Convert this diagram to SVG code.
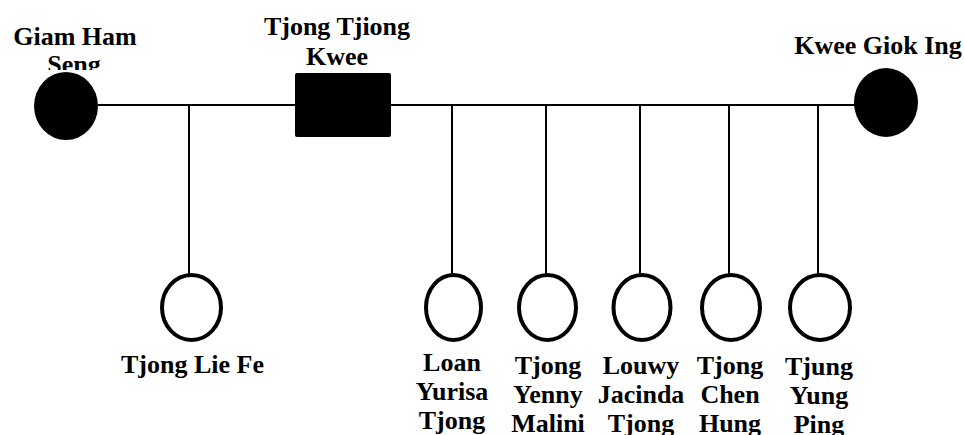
<svg xmlns="http://www.w3.org/2000/svg" width="964" height="435" viewBox="0 0 964 435">
  <style>
    .lbl { font-family: "Liberation Serif", "Times New Roman", serif; font-weight: bold; font-size: 26px; fill: #000; text-anchor: middle; }
    .link { stroke: #000; stroke-width: 2; fill: none; }
    .filled { fill: #000; stroke: none; }
    .open { fill: #fff; stroke: #000; stroke-width: 4; }
  </style>
  <defs>
    <clipPath id="clipGiam"><rect x="0" y="0" width="160" height="70"/></clipPath>
  </defs>
  <rect width="964" height="435" fill="#fff"/>

  <!-- marriage line and descent lines -->
  <g id="connectors">
    <line class="link" x1="98" y1="105" x2="856" y2="105"/>
    <line class="link" x1="189" y1="105" x2="189" y2="275"/>
    <line class="link" x1="452" y1="105" x2="452" y2="275"/>
    <line class="link" x1="546" y1="105" x2="546" y2="275"/>
    <line class="link" x1="640" y1="105" x2="640" y2="275"/>
    <line class="link" x1="729" y1="105" x2="729" y2="275"/>
    <line class="link" x1="818" y1="105" x2="818" y2="275"/>
  </g>

  <g id="giam-ham-seng">
    <g clip-path="url(#clipGiam)">
      <text class="lbl" x="75" y="45">Giam Ham</text>
      <text class="lbl" x="74" y="73">Seng</text>
    </g>
    <ellipse class="filled" cx="66" cy="106" rx="32" ry="34"/>
  </g>

  <g id="tjong-tjiong-kwee">
    <text class="lbl" x="337" y="35">Tjong Tjiong</text>
    <text class="lbl" x="337" y="65">Kwee</text>
    <rect class="filled" x="295" y="73" width="96" height="64" rx="2"/>
  </g>

  <g id="kwee-giok-ing">
    <text class="lbl" x="878" y="54">Kwee Giok Ing</text>
    <ellipse class="filled" cx="886" cy="102.5" rx="32" ry="34.5"/>
  </g>

  <g id="tjong-lie-fe">
    <ellipse class="open" cx="191.5" cy="307.5" rx="29.5" ry="32.5"/>
    <text class="lbl" x="192.5" y="373">Tjong Lie Fe</text>
  </g>

  <g id="loan-yurisa-tjong">
    <ellipse class="open" cx="453.5" cy="307.5" rx="27.5" ry="32.5"/>
    <text class="lbl" x="452" y="371">Loan</text>
    <text class="lbl" x="452" y="400">Yurisa</text>
    <text class="lbl" x="452" y="429">Tjong</text>
  </g>

  <g id="tjong-yenny-malini">
    <ellipse class="open" cx="547.5" cy="307.5" rx="28.5" ry="32.5"/>
    <text class="lbl" x="548" y="374">Tjong</text>
    <text class="lbl" x="548" y="403">Yenny</text>
    <text class="lbl" x="548" y="432">Malini</text>
  </g>

  <g id="louwy-jacinda-tjong">
    <ellipse class="open" cx="642" cy="307.5" rx="28.5" ry="32.5"/>
    <text class="lbl" x="641" y="374">Louwy</text>
    <text class="lbl" x="641" y="403">Jacinda</text>
    <text class="lbl" x="641" y="432">Tjong</text>
  </g>

  <g id="tjong-chen-hung">
    <ellipse class="open" cx="731" cy="307.5" rx="29" ry="32.5"/>
    <text class="lbl" x="730" y="374">Tjong</text>
    <text class="lbl" x="730" y="403">Chen</text>
    <text class="lbl" x="730" y="432">Hung</text>
  </g>

  <g id="tjung-yung-ping">
    <ellipse class="open" cx="820" cy="307.5" rx="30" ry="32.5"/>
    <text class="lbl" x="819" y="375">Tjung</text>
    <text class="lbl" x="819" y="404">Yung</text>
    <text class="lbl" x="819" y="433">Ping</text>
  </g>
</svg>
